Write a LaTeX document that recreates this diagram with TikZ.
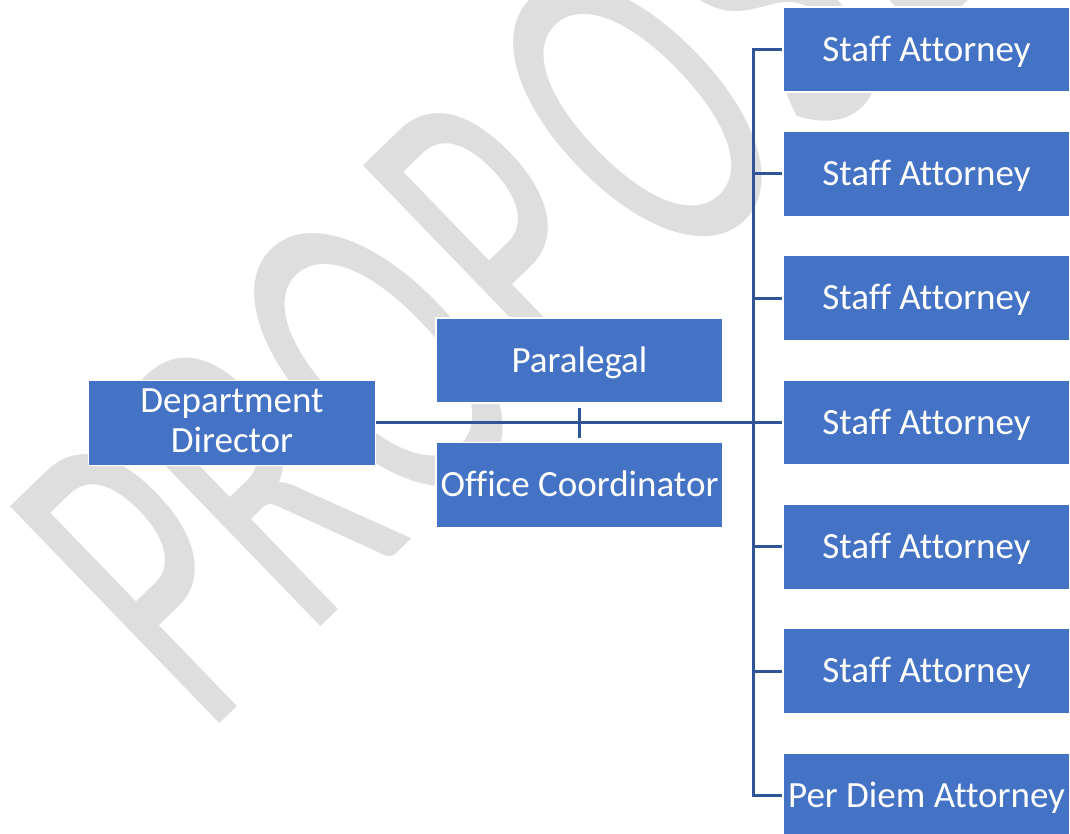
\documentclass[tikz,border=0pt]{standalone}
\usepackage{fontspec}
\setmainfont[Ligatures=NoCommon]{Carlito}
\definecolor{boxblue}{HTML}{4472C4}
\definecolor{linkblue}{HTML}{2F5597}
\definecolor{wmgray}{RGB}{222,222,222}
\tikzset{
  orgbox/.style={draw=white, line width=1.2pt, fill=boxblue, minimum width=287pt,
    minimum height=85pt, inner sep=0pt, text=white,
    font=\fontsize{37}{40}\selectfont, text height=23.4pt, text depth=0pt},
  orglbl/.style={inner sep=0pt, text=white, font=\fontsize{37}{40}\selectfont},
  conn/.style={draw=linkblue, line width=3pt},
  wmletter/.style={transform shape, anchor=base west, inner sep=0pt, outer sep=0pt,
    text=wmgray, font=\fontsize{470}{470}\selectfont}
}
\begin{document}
\begin{tikzpicture}[x=1pt,y=1pt]
\useasboundingbox (0,0) rectangle (1070,834);
\clip (0,0) rectangle (1070,834);
\fill[white] (0,0) rectangle (1070,834);
% watermark, letter by letter along a 44 degree baseline
\foreach \L/\u [count=\k] in {P/0, R/141, O/296, P/492, O/656, S/850, E/985, D/1130}{
  \begin{scope}[shift={({205+\u*0.7193},{96+\u*0.6947})}, rotate=44, xscale=0.59]
    \node[wmletter] (wm\k) at (0,0) {\L};
  \end{scope}
}
% boxes
\node[orgbox] (dd) at (232,411) {};
\node[orglbl, anchor=base] (ddl1) at (232,421) {Department};
\node[orglbl, anchor=base] (ddl2) at (232,381) {Director};
\node[orgbox] (para) at (579.5,473.5) {Paralegal};
\node[orgbox] (oc) at (579.5,349) {Office Coordinator};
\node[orgbox] (sa1) at (926.5,784.5) {Staff Attorney};
\node[orgbox] (sa2) at (926.5,660.2) {Staff Attorney};
\node[orgbox] (sa3) at (926.5,535.8) {Staff Attorney};
\node[orgbox] (sa4) at (926.5,411.5) {Staff Attorney};
\node[orgbox] (sa5) at (926.5,287.2) {Staff Attorney};
\node[orgbox] (sa6) at (926.5,162.8) {Staff Attorney};
\node[orgbox] (pd) at (926.5,38.5) {Per Diem Attorney};
% connectors
\coordinate (bus) at (753,0);
\draw[conn] (dd.east) -- (dd.east -| sa4.west);
\draw[conn] ([yshift=-4pt]para.south) -- ([yshift=4pt]oc.north);
\draw[conn] (sa1.west) -| (bus |- pd.west) -- (pd.west);
\foreach \n in {sa2,sa3,sa5,sa6} \draw[conn] (\n.west) -- (\n.west -| bus);
\end{tikzpicture}
\end{document}
